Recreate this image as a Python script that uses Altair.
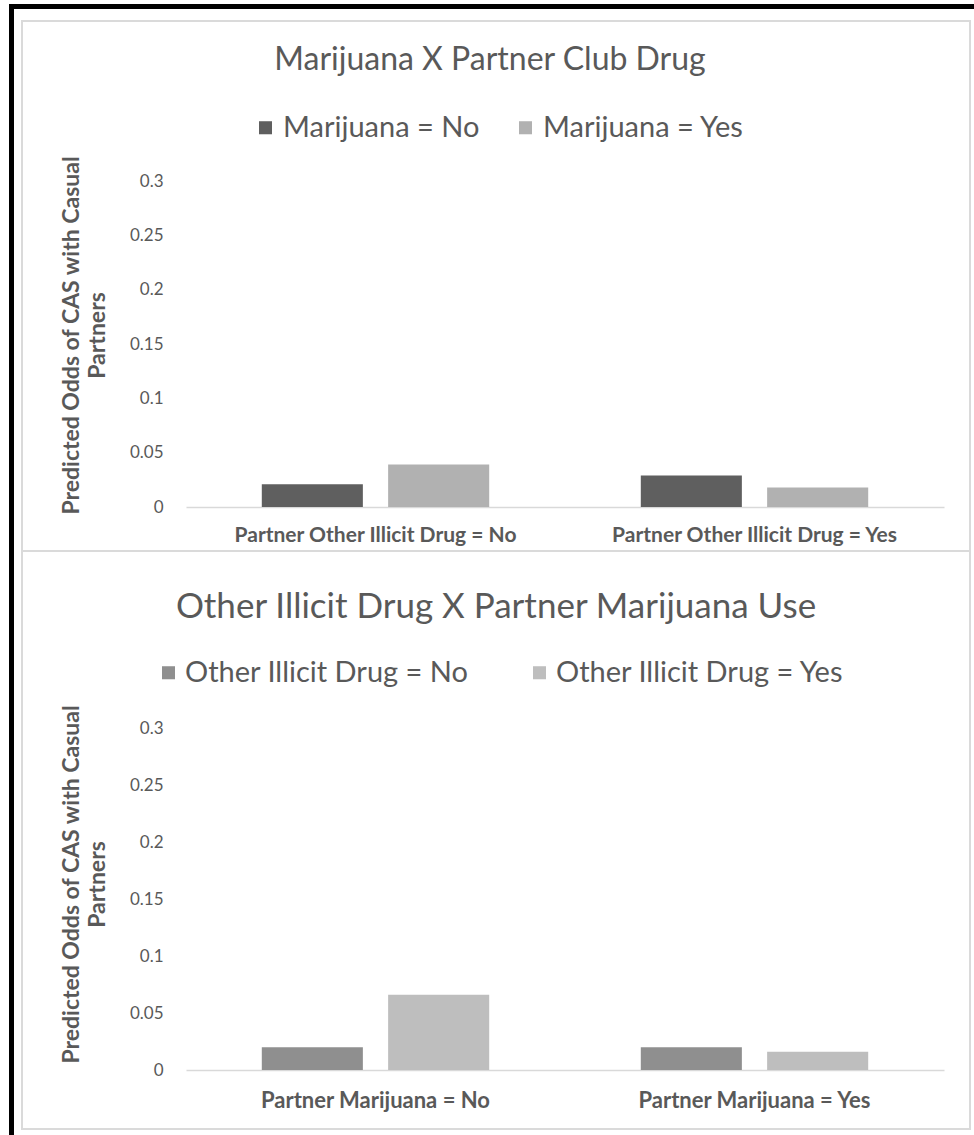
import altair as alt
import pandas as pd

# ---- data ----
top_title = "Marijuana X Partner Club Drug"
top_categories = ["Partner Other Illicit Drug = No", "Partner Other Illicit Drug = Yes"]
top_series = ["Marijuana = No", "Marijuana = Yes"]
top_series_no = [0.021, 0.029]
top_series_yes = [0.039, 0.018]
top_colors = ["#5f5f5f", "#b1b1b1"]

bottom_title = "Other Illicit Drug X Partner Marijuana Use"
bottom_categories = ["Partner Marijuana = No", "Partner Marijuana = Yes"]
bottom_series = ["Other Illicit Drug = No", "Other Illicit Drug = Yes"]
bottom_series_no = [0.020, 0.020]
bottom_series_yes = [0.066, 0.016]
bottom_colors = ["#8f8f8f", "#bebebe"]

y_ticks = [0, 0.05, 0.1, 0.15, 0.2, 0.25, 0.3]
y_title = ["Predicted Odds of CAS with Casual", "Partners"]

FONT = "Lato"
TEXT = "#595959"
LINE = "#d9d9d9"
FRAME = "#dadada"
W, H = 974, 1135


def make_df(cats, series, no_vals, yes_vals):
    rows = []
    for i, c in enumerate(cats):
        rows.append({"category": c, "series": series[0], "value": no_vals[i]})
        rows.append({"category": c, "series": series[1], "value": yes_vals[i]})
    return pd.DataFrame(rows)


decor = pd.DataFrame({"d": [0]})


def box(x1, x2, y1, y2, color):
    return alt.Chart(decor).mark_rect(color=color).encode(
        x=alt.value(x1), x2=alt.value(x2), y=alt.value(y1), y2=alt.value(y2))


def heading(text, size, cx, cy):
    return alt.Chart(pd.DataFrame({"t": [text]})).mark_text(
        font=FONT, fontSize=size, color=TEXT, align="center", baseline="middle"
    ).encode(text="t:N", x=alt.value(cx), y=alt.value(cy))


def bars(df, cats, series, colors, x_range, y_range, xlab_size, xlab_pad,
         title_y, legend_x, legend_y, legend_size, legend_offset, legend_gap):
    return alt.Chart(df).mark_bar().encode(
        x=alt.X("category:N", sort=cats,
                scale=alt.Scale(range=x_range, paddingInner=0, paddingOuter=0),
                axis=alt.Axis(orient="bottom", offset=y_range[0] - H, title=None,
                              labelAngle=0, domain=True, domainColor=LINE,
                              domainWidth=1.5, ticks=False, tickSize=0, grid=False,
                              labelFont=FONT, labelFontSize=xlab_size, labelFontWeight="bold",
                              labelColor=TEXT, labelPadding=xlab_pad, labelLimit=600)),
        xOffset=alt.XOffset("series:N", sort=series,
                            scale=alt.Scale(paddingInner=0.2, paddingOuter=0.6)),
        y=alt.Y("value:Q", scale=alt.Scale(domain=[0, 0.3], nice=False, range=y_range),
                axis=alt.Axis(orient="left", offset=-x_range[0], values=y_ticks,
                              format=".2~f", grid=False, domain=False,
                              ticks=False, tickSize=0, labelFont=FONT, labelFontSize=17,
                              labelColor=TEXT, labelPadding=23, title=y_title,
                              titleFont=FONT, titleFontSize=23, titleFontWeight="bold",
                              titleColor=TEXT, titleLineHeight=26,
                              titleX=-103, titleY=title_y)),
        color=alt.Color("series:N", sort=series,
                        scale=alt.Scale(domain=series, range=colors),
                        legend=alt.Legend(title=None, orient="none", legendX=legend_x,
                                          legendY=legend_y, direction="horizontal",
                                          symbolType="square", symbolSize=170,
                                          symbolStrokeWidth=0, labelFont=FONT,
                                          labelFontSize=legend_size, labelColor=TEXT,
                                          labelOffset=legend_offset, columnPadding=legend_gap,
                                          labelLimit=600)),
    )


decorations = [
    (9, 974, 4, 9, "#000000"),       # black top border
    (9, 14, 4, 1135, "#000000"),     # black left border
    (21, 971, 20, 22, FRAME),        # frame top
    (21, 23, 20, 1130, FRAME),       # frame left
    (969, 971, 20, 1130, FRAME),     # frame right
    (21, 971, 550, 552, FRAME),      # separator between the two charts
    (21, 971, 1128, 1130, FRAME),    # frame bottom
]

top_bars = bars(make_df(top_categories, top_series, top_series_no, top_series_yes),
                top_categories, top_series, top_colors, [186, 944], [507, 181],
                21, 17, 335, 251, 113, 29, 3, 31)
bottom_bars = bars(make_df(bottom_categories, bottom_series, bottom_series_no, bottom_series_yes),
                   bottom_categories, bottom_series, bottom_colors, [186, 944], [1070, 728],
                   22, 20, 884, 154, 658, 29, 2, 56)

layers = [box(*d) for d in decorations] + [
    heading(top_title, 32, 490, 60),
    heading(bottom_title, 35, 496, 607),
    top_bars,
    bottom_bars,
]

chart = alt.layer(*layers).resolve_scale(
    color="independent", x="independent", xOffset="independent", y="independent"
).resolve_legend(color="independent").resolve_axis(x="independent", y="independent").properties(
    width=W, height=H, padding=0, autosize=alt.AutoSizeParams(type="none"),
    background="white"
).configure_view(stroke="transparent")

chart.save("out.html", embed_options={"renderer": "svg", "actions": False})
